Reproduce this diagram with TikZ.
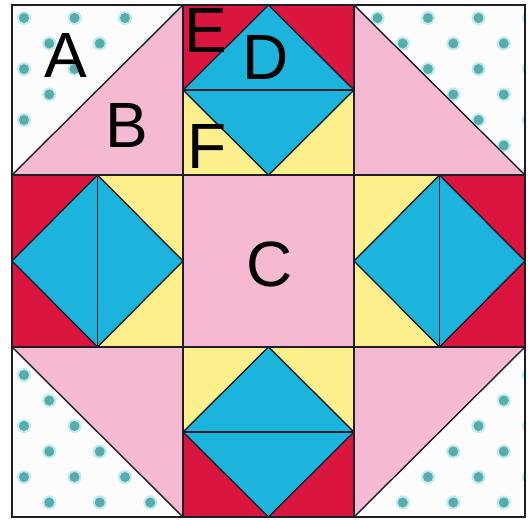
\documentclass[tikz,border=0pt]{standalone}
\usepackage{fontspec}
\setmainfont{Liberation Sans}
\definecolor{redc}{RGB}{218,22,62}
\definecolor{bluec}{RGB}{28,180,220}
\definecolor{yellowc}{RGB}{253,240,140}
\definecolor{pinkc}{RGB}{245,186,210}
\definecolor{whitec}{RGB}{252,252,252}
\definecolor{dotc}{RGB}{88,172,172}
\definecolor{haloc}{RGB}{190,235,238}
\definecolor{seamc}{RGB}{30,30,40}
\newcommand{\quiltdots}{%
  \foreach \r in {0,...,19}{%
    \foreach \n in {0,...,10}{%
      \pgfmathsetmacro{\dx}{24+25.25*mod(\r,2)+50.5*\n}%
      \pgfmathsetmacro{\dy}{18+25.5*\r}%
      \fill[haloc] (\dx,\dy) circle[radius=7];
      \fill[dotc] (\dx,\dy) circle[radius=5];
    }%
  }%
}
\begin{document}
\begin{tikzpicture}[x=0.5pt,y=-0.5pt,
  seam/.style={draw=seamc,line width=0.7pt},
  label/.style={inner sep=0pt,font=\fontsize{32}{32}\selectfont,text=black}]
\useasboundingbox (0,0) rectangle (528,519);
\fill[white] (0,0) rectangle (528,519);
% corner cells: white base
\fill[whitec] (12,5) rectangle (183,175);
\fill[whitec] (354,5) rectangle (525,175);
\fill[whitec] (12,347) rectangle (183,517);
\fill[whitec] (354,347) rectangle (525,517);
\begin{scope}
  \clip (12,5) -- (183,5) -- (12,175) -- cycle;
  \quiltdots
\end{scope}
\begin{scope}
  \clip (354,5) -- (525,5) -- (525,175) -- cycle;
  \quiltdots
\end{scope}
\begin{scope}
  \clip (12,347) -- (183,517) -- (12,517) -- cycle;
  \quiltdots
\end{scope}
\begin{scope}
  \clip (525,347) -- (525,517) -- (354,517) -- cycle;
  \quiltdots
\end{scope}
% pink corner triangles
\fill[pinkc] (183,5) -- (183,175) -- (12,175) -- cycle;
\fill[pinkc] (354,5) -- (525,175) -- (354,175) -- cycle;
\fill[pinkc] (12,347) -- (183,347) -- (183,517) -- cycle;
\fill[pinkc] (354,347) -- (525,347) -- (354,517) -- cycle;
\draw[seam] (12,175) -- (183,5);
\draw[seam] (354,5) -- (525,175);
\draw[seam] (12,347) -- (183,517);
\draw[seam] (525,347) -- (354,517);
% top cell
\fill[redc] (183,5) rectangle (354,90);
\fill[yellowc] (183,90) rectangle (354,175);
\filldraw[fill=bluec,seam] (268.5,5) -- (354,90) -- (268.5,175) -- (183,90) -- cycle;
\draw[seam] (183,90) -- (354,90);
% bottom cell
\fill[yellowc] (183,347) rectangle (354,432);
\fill[redc] (183,432) rectangle (354,517);
\filldraw[fill=bluec,seam] (268.5,347) -- (354,432) -- (268.5,517) -- (183,432) -- cycle;
\draw[seam] (183,432) -- (354,432);
% left cell
\fill[redc] (12,175) rectangle (97.5,347);
\fill[yellowc] (97.5,175) rectangle (183,347);
\filldraw[fill=bluec,seam] (12,261) -- (97.5,175) -- (183,261) -- (97.5,347) -- cycle;
\draw[seam] (97.5,175) -- (97.5,347);
% right cell
\fill[yellowc] (354,175) rectangle (439.5,347);
\fill[redc] (439.5,175) rectangle (525,347);
\filldraw[fill=bluec,seam] (354,261) -- (439.5,175) -- (525,261) -- (439.5,347) -- cycle;
\draw[seam] (439.5,175) -- (439.5,347);
% center
\fill[pinkc] (183,175) rectangle (354,347);
% grid and border
\draw[seam] (183,5) -- (183,517);
\draw[seam] (354,5) -- (354,517);
\draw[seam] (12,175) -- (525,175);
\draw[seam] (12,347) -- (525,347);
\draw[seam] (12,5) rectangle (525,517);
% labels
\node[label] (la) at (66,55) {A};
\node[label] (lb) at (127,125) {B};
\node[label] (le) at (206,30) {E};
\node[label] (ld) at (266,57) {D};
\node[label] (lf) at (207,146) {F};
\node[label] (lc) at (270,264) {C};
\end{tikzpicture}
\end{document}
